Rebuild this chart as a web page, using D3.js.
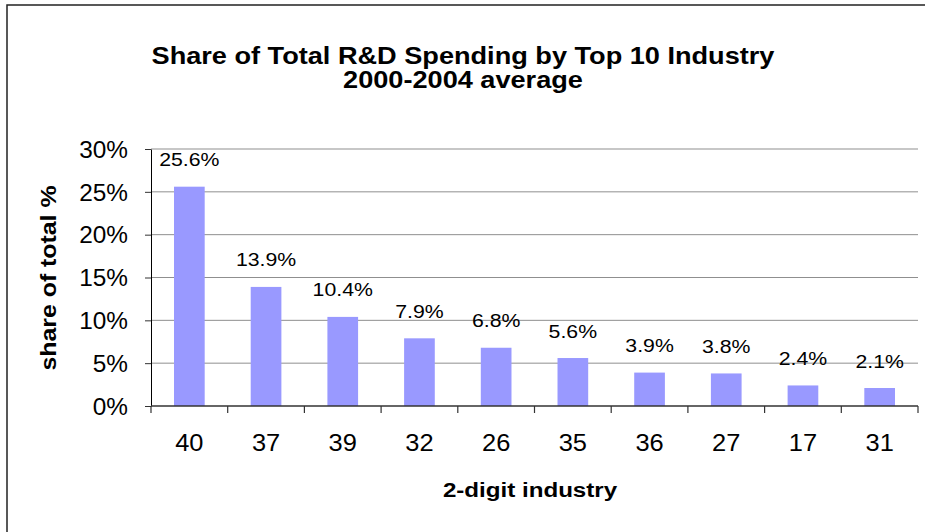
<!DOCTYPE html>
<html>
<head>
<meta charset="utf-8">
<script src="https://cdn.jsdelivr.net/npm/d3@7"></script>
<style>
  html, body { margin: 0; padding: 0; background: #fff; }
  svg { display: block; font-family: "Liberation Sans", Arial, Helvetica, sans-serif; }
</style>
</head>
<body>
<svg id="chart" width="925" height="532"></svg>
<script>
// Two-digit industry codes, ordered by share of total R&D spending
const industries = ["40", "37", "39", "32", "26", "35", "36", "27", "17", "31"];
// Average share of total R&D spending, 2000-2004
const shares = [0.256, 0.139, 0.104, 0.079, 0.068, 0.056, 0.039, 0.038, 0.024, 0.021];
// Y axis tick values
const yTicks = [0, 0.05, 0.10, 0.15, 0.20, 0.25, 0.30];

const titleLines = ["Share of Total R&D Spending by Top 10 Industry", "2000-2004 average"];
const xTitle = "2-digit industry";
const yTitle = "share of total %";

const W = 925, H = 532;
const plot = { left: 151, right: 918, top: 149, bottom: 406 };
const barColor = "#9999FF";

const svg = d3.select("#chart");

svg.append("rect").attr("width", W).attr("height", H).attr("fill", "#fff");

// Chart frame (only its top and left edges fall inside the view)
svg.append("rect")
  .attr("x", 7).attr("y", 5)
  .attr("width", 1200).attr("height", 1200)
  .attr("fill", "none").attr("stroke", "#222").attr("stroke-width", 1.5);

const x = d3.scaleBand()
  .domain(industries)
  .range([plot.left, plot.right])
  .paddingInner(0.6)
  .paddingOuter(0.3);

const y = d3.scaleLinear()
  .domain([0, 0.30])
  .range([plot.bottom, plot.top]);

// Places a text horizontally stretched by sx at (px, py), optionally rotated
function stretchedText(parent, px, py, str, opts) {
  const g = parent.append("g")
    .attr("transform", `translate(${px},${py}) rotate(${opts.rotate || 0}) scale(${opts.sx || 1},1)`);
  return g.append("text")
    .attr("text-anchor", opts.anchor || "middle")
    .attr("font-size", opts.size)
    .attr("font-weight", opts.weight || "normal")
    .attr("fill", "#000")
    .text(str);
}

// Title
titleLines.forEach((line, i) => {
  stretchedText(svg, 463, 64 + i * 24, line, { size: 23, weight: "bold", sx: 1.18 });
});

// Horizontal gridlines
svg.append("g")
  .selectAll("line")
  .data(yTicks.slice(1))
  .join("line")
  .attr("x1", plot.left).attr("x2", plot.right)
  .attr("y1", d => y(d)).attr("y2", d => y(d))
  .attr("stroke", "#8f8f8f").attr("stroke-width", 1);

// Bars
svg.append("g")
  .selectAll("rect")
  .data(industries.map((c, i) => ({ c, v: shares[i] })))
  .join("rect")
  .attr("x", d => x(d.c))
  .attr("width", x.bandwidth())
  .attr("y", d => y(d.v))
  .attr("height", d => y(0) - y(d.v))
  .attr("fill", barColor);

// Value labels
const fmtVal = d3.format(".1%");
industries.forEach((c, i) => {
  stretchedText(svg, x(c) + x.bandwidth() / 2, y(shares[i]) - 20.5, fmtVal(shares[i]),
    { size: 19, sx: 1.12 });
});

// Y axis
const tickSx = 1.06;
const yAxis = svg.append("g")
  .attr("transform", `translate(${plot.left},0)`)
  .call(d3.axisLeft(y).tickValues(yTicks).tickFormat(d3.format(".0%")).tickSize(6).tickSizeOuter(0));
yAxis.select(".domain").attr("stroke", "#000");
yAxis.selectAll(".tick line").attr("stroke", "#333");
yAxis.selectAll(".tick text")
  .attr("font-family", null)
  .attr("font-size", 23)
  .attr("fill", "#000")
  .attr("x", -23 / tickSx)
  .attr("dy", "0.36em")
  .attr("transform", `scale(${tickSx},1)`);
yAxis.attr("font-family", null).attr("font-size", null);

// X axis line
svg.append("line")
  .attr("x1", plot.left).attr("x2", plot.right)
  .attr("y1", plot.bottom).attr("y2", plot.bottom)
  .attr("stroke", "#333").attr("stroke-width", 1.5);

// X ticks on the category boundaries
const bounds = industries.map(c => x(c) + x.bandwidth() / 2 - x.step() / 2);
bounds.push(bounds[bounds.length - 1] + x.step());
svg.append("g")
  .selectAll("line")
  .data(bounds)
  .join("line")
  .attr("x1", d => d).attr("x2", d => d)
  .attr("y1", plot.bottom).attr("y2", plot.bottom + 7)
  .attr("stroke", "#333").attr("stroke-width", 1.2);

// X category labels
industries.forEach(c => {
  stretchedText(svg, x(c) + x.bandwidth() / 2, 451, c, { size: 24, sx: tickSx });
});

// Axis titles
stretchedText(svg, 530, 497, xTitle, { size: 21, weight: "bold", sx: 1.15 });
stretchedText(svg, 56, 278, yTitle, { size: 22, weight: "bold", sx: 1.13, rotate: -90 });
</script>
</body>
</html>
